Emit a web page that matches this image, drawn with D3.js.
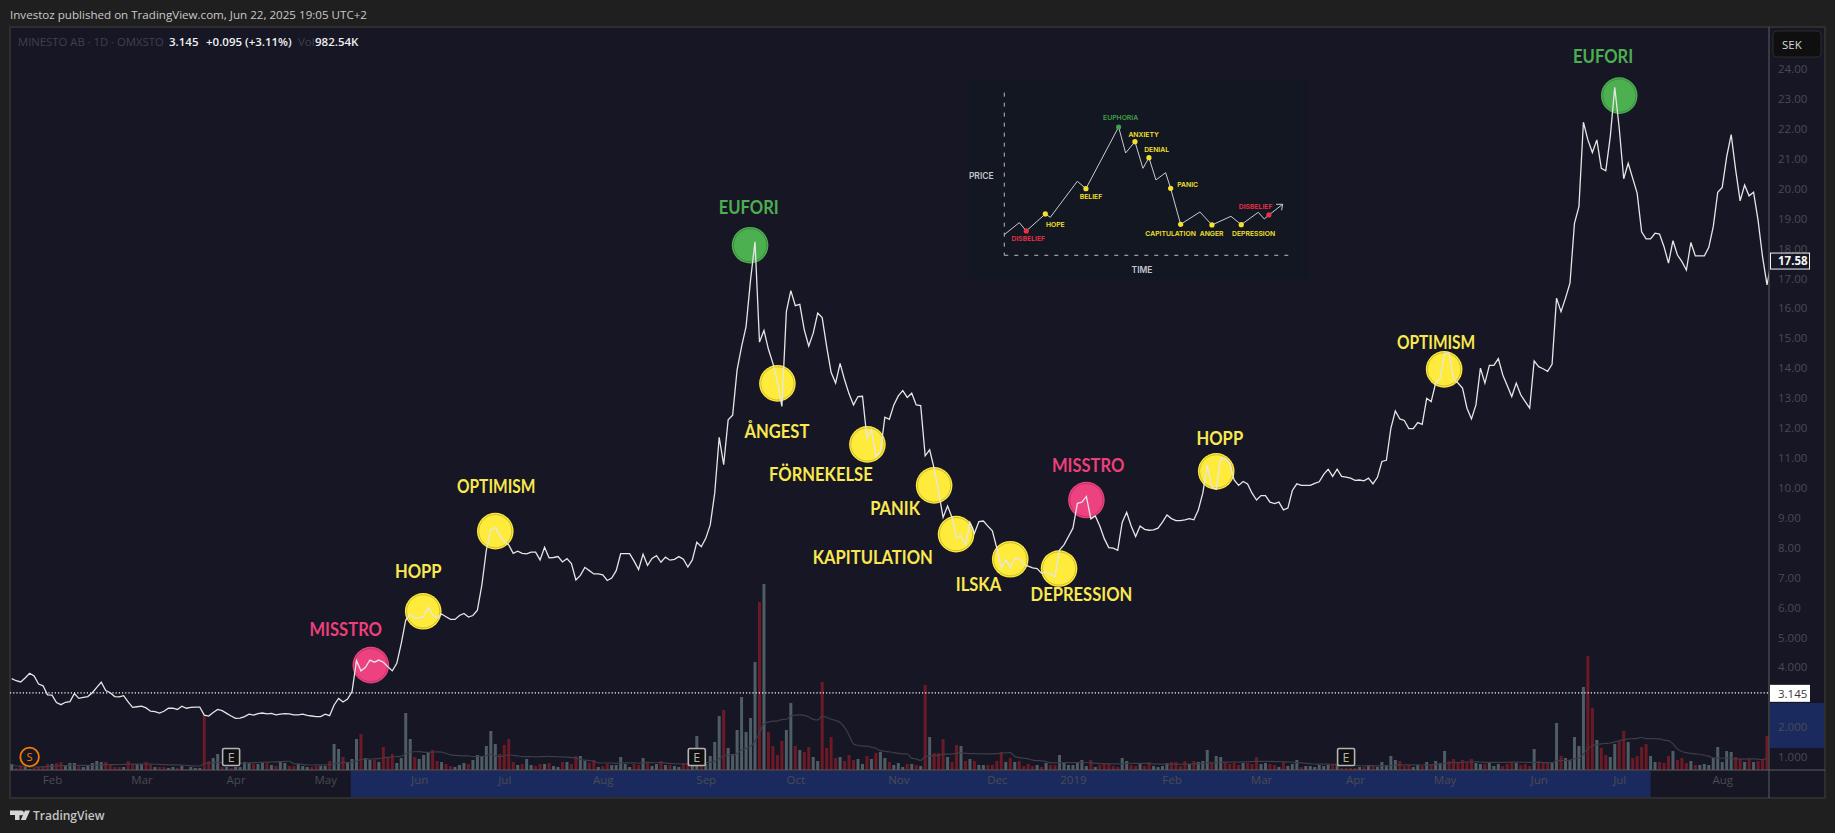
<!DOCTYPE html>
<html>
<head>
<meta charset="utf-8">
<script src="https://cdnjs.cloudflare.com/ajax/libs/d3/7.9.0/d3.min.js"></script>
<style>
html, body { margin: 0; padding: 0; background: #1f1f1f; overflow: hidden; }
svg { display: block; }
text { font-family: "Open Sans", sans-serif; }
text.stage { font-family: Lato, sans-serif; }
text.sketch { font-family: Inter, sans-serif; }
</style>
</head>
<body>
<svg id="chart" width="1835" height="833"></svg>
<script>
// daily close, SEK
var prices = [
    3.62,3.55,3.51,3.64,3.80,3.71,3.44,3.38,3.08,3.07,
    2.82,2.75,2.83,2.85,3.12,2.96,2.99,3.02,3.15,3.33,
    3.50,3.22,3.15,3.02,3.01,3.05,2.84,2.66,2.68,2.70,
    2.64,2.53,2.52,2.47,2.53,2.63,2.63,2.59,2.70,2.63,
    2.66,2.67,2.67,2.40,2.37,2.49,2.59,2.55,2.46,2.37,
    2.29,2.30,2.35,2.43,2.40,2.45,2.47,2.44,2.46,2.41,
    2.43,2.45,2.44,2.41,2.41,2.43,2.39,2.37,2.35,2.35,
    2.43,2.38,2.74,2.96,2.84,2.94,3.18,4.22,3.88,4.00,
    4.24,4.17,4.24,4.17,4.02,3.88,4.13,4.80,5.58,5.77,
    5.64,5.66,5.69,6.00,5.75,5.64,5.78,5.69,5.60,5.60,
    5.73,5.80,5.68,5.73,5.91,6.75,7.92,8.61,8.67,8.42,
    8.20,8.09,7.81,7.88,7.81,7.79,7.85,7.85,7.59,8.01,
    7.66,7.67,7.70,7.52,7.63,7.47,6.92,7.07,7.34,7.23,
    7.12,7.12,7.09,6.90,6.98,7.23,7.80,7.80,7.80,7.55,
    7.27,7.78,7.41,7.64,7.73,7.51,7.68,7.58,7.61,7.70,
    7.61,7.35,7.59,8.18,8.03,8.31,8.76,9.82,11.69,10.77,
    12.27,12.43,13.94,14.72,15.39,16.95,18.22,14.87,15.26,14.63,
    14.16,13.55,12.72,15.89,16.59,16.09,16.13,15.28,14.74,15.17,
    15.84,15.69,14.72,13.85,13.50,14.16,13.61,13.14,12.77,13.05,
    13.06,11.66,11.94,11.04,11.21,12.36,12.29,12.77,13.07,13.25,
    13.02,13.16,12.77,12.75,11.07,11.27,10.65,9.87,9.01,9.39,
    9.01,8.31,8.40,8.09,8.84,8.48,8.87,8.89,8.72,8.56,
    7.98,7.33,7.59,7.34,7.64,7.63,7.45,7.38,7.32,7.30,
    7.14,7.19,7.11,7.03,7.92,8.09,8.37,8.65,9.48,9.52,
    9.71,8.96,9.06,8.72,8.30,8.00,7.98,7.91,8.84,9.18,
    8.72,8.37,8.72,8.61,8.58,8.59,8.65,8.85,9.09,8.97,
    8.90,8.90,8.93,8.97,8.93,9.26,9.82,10.76,10.02,9.95,
    10.99,10.98,10.82,10.26,10.08,10.21,10.13,9.82,9.59,9.74,
    9.74,9.52,9.47,9.52,9.26,9.32,9.91,10.13,10.08,10.08,
    10.08,10.15,10.20,10.45,10.62,10.38,10.62,10.38,10.36,10.32,
    10.25,10.26,10.23,10.32,10.13,10.35,10.88,10.92,11.99,12.57,
    12.30,12.25,11.98,11.98,12.18,12.12,12.99,12.88,13.50,13.66,
    14.50,14.50,13.63,13.50,13.33,12.66,12.30,12.77,14.00,13.50,
    14.09,14.09,14.32,13.77,13.41,13.05,13.50,13.11,12.88,12.66,
    14.24,14.05,13.98,13.89,14.13,16.34,15.89,16.34,16.84,18.84,
    19.40,22.22,21.63,21.21,21.63,20.68,20.60,21.74,23.39,22.02,
    20.33,20.85,20.35,19.85,18.56,18.32,18.32,18.51,18.48,18.06,
    17.51,18.26,17.78,17.56,17.28,18.20,17.75,17.75,17.75,18.04,
    18.73,19.88,20.04,21.07,21.81,20.63,19.59,20.12,19.76,19.88,
    18.95,17.73,16.78,17.58
];

// daily volume, in units of 1/186 of the largest bar
var volumes = [
    6,2,4,3,1,2,3,4,6,6,
    7,8,5,7,7,5,3,4,7,9,
    8,8,5,3,3,3,9,6,6,6,
    8,5,3,3,3,2,3,2,4,1,
    3,2,2,55,9,12,16,3,3,2,
    3,3,8,7,6,6,7,7,5,4,
    8,7,4,4,6,4,3,3,4,4,
    4,9,26,21,13,7,11,31,36,12,
    10,10,8,23,12,16,7,12,57,31,
    13,11,15,17,20,9,8,6,4,3,
    5,7,6,10,15,14,24,39,26,16,
    25,31,8,5,6,11,5,4,6,6,
    7,4,3,8,8,6,14,14,9,7,
    10,3,4,6,5,5,13,6,3,6,
    5,12,7,4,6,9,5,5,4,3,
    7,7,4,34,4,6,14,28,54,60,
    22,16,40,73,38,52,108,168,186,38,
    24,15,29,40,67,24,20,18,23,13,
    9,88,22,33,12,13,9,15,10,11,
    6,14,11,17,18,12,8,5,7,3,
    6,6,5,4,85,33,17,17,31,13,
    8,25,24,9,11,9,5,5,5,5,
    9,18,8,12,8,9,4,6,4,5,
    3,7,5,5,15,8,5,5,8,10,
    4,10,3,5,6,6,4,3,12,9,
    5,4,6,4,8,4,3,4,7,8,
    8,4,9,6,9,8,9,20,7,14,
    13,8,6,7,5,7,7,6,13,6,
    7,6,5,3,8,4,6,10,3,4,
    4,3,5,4,5,5,6,2,2,2,
    2,3,3,5,5,3,8,5,14,10,
    9,4,5,3,5,4,8,5,9,7,
    19,9,11,7,10,8,11,7,6,6,
    7,4,6,4,6,8,7,5,6,4,
    21,9,7,7,7,47,14,12,10,33,
    24,83,114,62,30,22,15,13,26,29,
    39,28,12,14,23,26,14,8,8,7,
    14,19,10,12,7,9,5,5,6,5,
    12,23,8,19,18,13,11,8,11,8,
    9,11,34
];

// g = up day, r = down day
var volumeColors = (
    "grrggrrrrg" + "rrgggrgggg" + "grrrrgrrgg" + "rrgrrggrgr" +
    "gggrrggrgr" + "ggggrggrgr" + "ggrrgggrrg" + "grggrgggrg" +
    "grgrrrgggg" + "rgggrrgrrg" + "ggrggggggr" + "rrrgrggrrg" +
    "rggrgrrggr" + "rgrrgggggr" + "rgrggrgrgg" + "rrggrggggr" +
    "gggggggrgr" + "rrrggrgrrg" + "grrrrgrrrg" + "grgrggrggg" +
    "rgrgrgrrrg" + "rrgrgrggrr" + "rrgrgrrrrg" + "rgrrgggggg" +
    "grgrrrrrgg" + "rrgrrggggr" + "rrrgrgggrg" + "grrrrgrrrg" +
    "grrgrgggrg" + "gggggrgrrr" + "rgrgrggggg" + "rrrggrgrgg" +
    "grrrrrrggr" + "gggrrrgrrr" + "grrrggrggg" + "ggrrgrrggr" +
    "rgrrrrggrr" + "rgrrrgrggg" + "gggggrrgrg" + "rrr"
).split("");

var priceTicks = [24,23,22,21,20,19,18,17,16,15,14,13,12,11,10,9,8,7,6,5,4,2,1];
var lastClose = 17.58;
var lastTraded = 3.145;

var timeTickIndex = [9,29,50,70,91,110,132,155,175,198,220,237,259,279,300,320,341,359,382];
var timeTickLabels = ["Feb","Mar","Apr","May","Jun","Jul","Aug","Sep","Oct","Nov","Dec","2019","Feb","Mar","Apr","May","Jun","Jul","Aug"];

var earningsIndex = [49,153,298];
var splitIndex = [4];

// psychology stages marked on the line
var stageNames = ["MISSTRO","HOPP","OPTIMISM","EUFORI","ÅNGEST","FÖRNEKELSE","PANIK","KAPITULATION","ILSKA","DEPRESSION","MISSTRO","HOPP","OPTIMISM","EUFORI"];
var stageKinds = ["bad","mid","mid","top","mid","mid","mid","mid","mid","mid","bad","mid","mid","top"];
var stageIndex = [80.2,91.9,108,164.9,171,191.1,206,210.9,223,233.9,240,269,319.9,359];
var stagePrice = [4.07,5.87,8.55,18.11,13.49,11.45,10.08,8.45,7.61,7.30,9.59,10.55,13.96,23.11];
var stageLabelIndex = [74.6,90.8,108.2,164.6,170.9,180.7,197.3,192.3,215.9,238.9,240.4,269.8,318.1,355.4];
var stageLabelPrice = [5.27,7.23,10.07,19.38,11.91,10.47,9.32,7.70,6.79,6.46,10.75,11.68,14.88,24.45];

// inset: the market cycle sketch
var cycleTime = [0,4.5,6.6,12.3,13.8,21.9,24.5,34.3,36.4,39.2,41.6,43.4,45.5,48.4,49.9,52.9,58.7,62.3,68,71.1,76.2,78,79.4,83.5];
var cyclePrice = [6.2,9.8,7.3,12.4,11.4,22.2,20,38.5,30.7,34.1,26.1,29.3,22.6,24.8,20.1,9.3,13,9.1,11.7,9.2,12.9,10.9,12.1,15.3];
var cycleDots = [2,3,6,7,9,11,14,15,17,19,22];
var cycleDotKinds = ["bad","mid","mid","top","mid","mid","mid","mid","mid","mid","bad"];
var cycleNames = ["DISBELIEF","HOPE","BELIEF","EUPHORIA","ANXIETY","DENIAL","PANIC","CAPITULATION","ANGER","DEPRESSION","DISBELIEF"];
var cycleNameTime = [7.2,15.3,26,34.9,41.8,45.7,55,49.9,62.2,74.8,75.4];
var cycleNamePrice = [4.9,9.3,17.7,41.4,36.3,31.6,21.3,6.6,6.6,6.5,14.5];

var COLORS = {
    page: "#1f1f1f", pane: "#161625", border: "#2e2e2e", axisText: "#4b4b52",
    axisLine: "#5c5c5f", line: "#e6e6e6", up: "#4e5d66", down: "#6c1a26", ma: "#3e3e46",
    band: "#1a2a5e", mid: "#ffeb3b", bad: "#ee4180", top: "#4caf50"
};
var LABEL_COLORS = { mid: "#f9e84f", bad: "#ec407a", top: "#4caf50" };
var DOT_COLORS = { mid: "#f7e22b", bad: "#ef3047", top: "#43a047" };

var PANE_L = 10, PANE_R = 1769, PANE_T = 27, PANE_B = 798, OUTER_R = 1825, VOL_BASE = 770;

var svg = d3.select("#chart");

var x = d3.scaleLinear().domain([0, 392]).range([11.7, 1767]);
var y = d3.scaleLinear().domain([1, 24]).range([757, 69]);
var yVol = d3.scaleLinear().domain([0, 186]).range([VOL_BASE, 584]);

/* ---------- frame ---------- */
svg.append("rect").attr("width", 1835).attr("height", 833).attr("fill", COLORS.page);
svg.append("rect")
    .attr("x", PANE_L).attr("y", PANE_T)
    .attr("width", OUTER_R - PANE_L).attr("height", PANE_B - PANE_T)
    .attr("fill", COLORS.pane)
    .attr("stroke", COLORS.border).attr("stroke-width", 2);

svg.append("defs").append("clipPath").attr("id", "plot")
    .append("rect")
    .attr("x", PANE_L).attr("y", PANE_T)
    .attr("width", PANE_R - PANE_L).attr("height", PANE_B - PANE_T);

// highlighted ranges on both axes
svg.append("rect").attr("x", x(75.7)).attr("y", VOL_BASE + 1)
    .attr("width", x(366) - x(75.7)).attr("height", PANE_B - VOL_BASE - 2).attr("fill", COLORS.band);
svg.append("rect").attr("x", PANE_R + 1).attr("y", 703)
    .attr("width", OUTER_R - PANE_R - 2).attr("height", 45).attr("fill", COLORS.band);

/* ---------- volume ---------- */
var plot = svg.append("g").attr("clip-path", "url(#plot)");

plot.append("g").selectAll("rect").data(volumes).join("rect")
    .attr("x", function (d, i) { return x(i) - 1.5; })
    .attr("y", function (d) { return yVol(d); })
    .attr("width", 3)
    .attr("height", function (d) { return VOL_BASE - yVol(d); })
    .attr("fill", function (d, i) { return volumeColors[i] === "r" ? COLORS.down : COLORS.up; });

// 20 day average of the volume
var volumeAverage = volumes.map(function (d, i) {
    return d3.mean(volumes.slice(Math.max(0, i - 19), i + 1));
});
plot.append("path")
    .attr("d", d3.line()
        .x(function (d, i) { return x(i); })
        .y(function (d) { return yVol(d); })
        .curve(d3.curveMonotoneX)(volumeAverage))
    .attr("fill", "none").attr("stroke", COLORS.ma).attr("stroke-width", 1.2);

/* ---------- last price dotted line ---------- */
plot.append("line")
    .attr("x1", PANE_L).attr("x2", PANE_R)
    .attr("y1", y(lastTraded)).attr("y2", y(lastTraded))
    .attr("stroke", "#ffffff").attr("stroke-width", 1.2).attr("stroke-dasharray", "1.2 2");

/* ---------- stage circles ---------- */
var stages = stageNames.map(function (name, i) {
    return { name: name, kind: stageKinds[i], i: stageIndex[i], p: stagePrice[i], li: stageLabelIndex[i], lp: stageLabelPrice[i] };
});

plot.append("g").selectAll("circle").data(stages).join("circle")
    .attr("cx", function (d) { return x(d.i); })
    .attr("cy", function (d) { return y(d.p); })
    .attr("r", 18.3)
    .attr("fill", function (d) { return COLORS[d.kind]; });
plot.append("g").selectAll("circle").data(stages).join("circle")
    .attr("cx", function (d) { return x(d.i); })
    .attr("cy", function (d) { return y(d.p); })
    .attr("r", 16.6)
    .attr("fill", "none")
    .attr("stroke", "#000").attr("stroke-opacity", 0.28).attr("stroke-width", 0.7);

/* ---------- price line ---------- */
plot.append("path")
    .attr("d", d3.line()
        .x(function (d, i) { return x(i); })
        .y(function (d) { return y(d); })(prices))
    .attr("fill", "none").attr("stroke", COLORS.line)
    .attr("stroke-width", 1.3).attr("stroke-linejoin", "miter");

svg.append("g").selectAll("text").data(stages).join("text")
    .attr("class", "stage")
    .attr("x", function (d) { return x(d.li); })
    .attr("y", function (d) { return y(d.lp); })
    .attr("text-anchor", "middle").attr("dominant-baseline", "central")
    .attr("font-weight", 700).attr("font-size", 18)
    .attr("fill", function (d) { return LABEL_COLORS[d.kind]; })
    .text(function (d) { return d.name; })
    // the original face is narrower than Lato, squeeze it to the same width
    .attr("lengthAdjust", "spacingAndGlyphs")
    .attr("textLength", function (d) {
        return this.getComputedTextLength() * (d.name === "OPTIMISM" ? 0.86 : 0.92);
    });

/* ---------- inset ---------- */
var tCycle = d3.scaleLinear().domain([0, 100]).range([1004.3, 1337.6]);
var pCycle = d3.scaleLinear().domain([0, 100]).range([255.3, -78]);

var inset = svg.append("g");
inset.append("rect").attr("x", 966).attr("y", 78).attr("width", 342).attr("height", 202).attr("fill", "#131722");

inset.append("line")
    .attr("x1", tCycle(0)).attr("x2", tCycle(0))
    .attr("y1", pCycle(48.8)).attr("y2", pCycle(0))
    .attr("stroke", "#b8b8b8").attr("stroke-dasharray", "4 6").attr("stroke-width", 1);
inset.append("line")
    .attr("x1", tCycle(0)).attr("x2", tCycle(87))
    .attr("y1", pCycle(0)).attr("y2", pCycle(0))
    .attr("stroke", "#b8b8b8").attr("stroke-dasharray", "4 6").attr("stroke-width", 1);

inset.append("path")
    .attr("d", d3.line()
        .x(function (d, i) { return tCycle(cycleTime[i]); })
        .y(function (d) { return pCycle(d); })(cyclePrice))
    .attr("fill", "none").attr("stroke", "#c9cbd1").attr("stroke-width", 1);

// arrow head of the sketch
var tipT = cycleTime[cycleTime.length - 1], tipP = cyclePrice[cyclePrice.length - 1];
inset.append("path")
    .attr("d", "M" + (tCycle(tipT) - 6.5) + "," + pCycle(tipP) + "L" + tCycle(tipT) + "," + pCycle(tipP) + "L" + (tCycle(tipT) - 1) + "," + (pCycle(tipP) + 6))
    .attr("fill", "none").attr("stroke", "#c9cbd1").attr("stroke-width", 1);

inset.append("g").selectAll("circle").data(cycleDots).join("circle")
    .attr("cx", function (d) { return tCycle(cycleTime[d]); })
    .attr("cy", function (d) { return pCycle(cyclePrice[d]); })
    .attr("r", 2.6)
    .attr("fill", function (d, i) { return DOT_COLORS[cycleDotKinds[i]]; });

inset.append("g").selectAll("text").data(cycleNames).join("text")
    .attr("class", "sketch")
    .attr("x", function (d, i) { return tCycle(cycleNameTime[i]); })
    .attr("y", function (d, i) { return pCycle(cycleNamePrice[i]); })
    .attr("text-anchor", "middle").attr("dominant-baseline", "central")
    .attr("font-weight", 600).attr("font-size", 6.8)
    .attr("fill", function (d, i) { return DOT_COLORS[cycleDotKinds[i]]; })
    .text(function (d) { return d; });

inset.append("text").attr("class", "sketch").attr("x", 981.3).attr("y", 175.7)
    .attr("text-anchor", "middle").attr("dominant-baseline", "central")
    .attr("font-weight", 600).attr("font-size", 8.5)
    .attr("fill", "#c4c6cc").text("PRICE");
inset.append("text").attr("class", "sketch").attr("x", 1142).attr("y", 269.7)
    .attr("text-anchor", "middle").attr("dominant-baseline", "central")
    .attr("font-weight", 600).attr("font-size", 8.5)
    .attr("fill", "#c4c6cc").text("TIME");

/* ---------- axes ---------- */
var axisRight = d3.axisRight(y)
    .tickValues(priceTicks)
    .tickSize(0).tickPadding(9)
    .tickFormat(function (d) { return d >= 6 ? d3.format(".2f")(d) : d3.format(".3f")(d); });
var gy = svg.append("g").attr("transform", "translate(" + PANE_R + ",0)").call(axisRight);
gy.select(".domain").remove();
gy.selectAll("text").attr("fill", COLORS.axisText).attr("font-size", 11.5);

var axisBottom = d3.axisBottom(x)
    .tickValues(timeTickIndex)
    .tickSize(0).tickPadding(6)
    .tickFormat(function (d) { return timeTickLabels[timeTickIndex.indexOf(d)]; });
var gx = svg.append("g").attr("transform", "translate(0," + VOL_BASE + ")").call(axisBottom);
gx.select(".domain").remove();
gx.selectAll("text").attr("fill", COLORS.axisText).attr("font-size", 11.5);

svg.append("line").attr("x1", PANE_L).attr("x2", OUTER_R).attr("y1", VOL_BASE).attr("y2", VOL_BASE)
    .attr("stroke", COLORS.axisLine).attr("stroke-width", 1);
svg.append("line").attr("x1", PANE_R).attr("x2", PANE_R).attr("y1", PANE_T).attr("y2", PANE_B)
    .attr("stroke", COLORS.axisLine).attr("stroke-width", 1);

/* ---------- price tags ---------- */
svg.append("rect").attr("x", 1773).attr("y", 31).attr("width", 48).attr("height", 26).attr("rx", 4)
    .attr("fill", "#0f0f0f").attr("stroke", "#2c2c2c");
svg.append("text").attr("x", 1782).attr("y", 48.5).attr("font-size", 11.5).attr("fill", "#d8d8d8").text("SEK");

svg.append("rect").attr("x", 1770.5).attr("y", y(lastClose) - 8).attr("width", 39).attr("height", 16)
    .attr("fill", COLORS.pane).attr("stroke", "#f0f0f0");
svg.append("text").attr("x", 1778).attr("y", y(lastClose) + 4).attr("font-size", 11.5).attr("font-weight", 700)
    .attr("fill", "#f5f5f5").text(d3.format(".2f")(lastClose));

svg.append("rect").attr("x", 1770).attr("y", y(lastTraded) - 8).attr("width", 40).attr("height", 17).attr("fill", "#ffffff");
svg.append("text").attr("x", 1778).attr("y", y(lastTraded) + 5).attr("font-size", 11.5).attr("fill", "#3a3a3a")
    .text(d3.format(".3f")(lastTraded));

/* ---------- event markers ---------- */
var MARKER_Y = 757;
svg.append("g").selectAll("g").data(earningsIndex).join("g")
    .attr("transform", function (d) { return "translate(" + x(d) + "," + MARKER_Y + ")"; })
    .each(function () {
        var g = d3.select(this);
        g.append("rect").attr("x", -8.5).attr("y", -8.5).attr("width", 17).attr("height", 17).attr("rx", 1.5)
            .attr("fill", "#101010").attr("stroke", "#b5b5b5").attr("stroke-width", 1.6);
        g.append("text").attr("text-anchor", "middle").attr("y", 4.5).attr("font-size", 12.5).attr("fill", "#b5b5b5").text("E");
    });
svg.append("g").selectAll("g").data(splitIndex).join("g")
    .attr("transform", function (d) { return "translate(" + x(d) + "," + MARKER_Y + ")"; })
    .each(function () {
        var g = d3.select(this);
        g.append("circle").attr("r", 9.3).attr("fill", COLORS.pane).attr("stroke", "#f57c00").attr("stroke-width", 1.8);
        g.append("text").attr("text-anchor", "middle").attr("y", 4).attr("font-size", 11).attr("fill", "#f57c00").text("S");
    });

/* ---------- header, legend and logo ---------- */
svg.append("text").attr("x", 10).attr("y", 19).attr("font-size", 11.6).attr("fill", "#c9c9c9")
    .text("Investoz published on TradingView.com, Jun 22, 2025 19:05 UTC+2");

var legendY = 46;
svg.append("text").attr("x", 18).attr("y", legendY).attr("font-size", 11.3).attr("fill", "#41414a").text("MINESTO AB · 1D · OMXSTO");
svg.append("text").attr("x", 169).attr("y", legendY).attr("font-size", 11.5).attr("font-weight", 600).attr("fill", "#f0f0f0").text("3.145");
svg.append("text").attr("x", 206).attr("y", legendY).attr("font-size", 11.5).attr("font-weight", 600).attr("fill", "#f0f0f0").text("+0.095 (+3.11%)");
svg.append("text").attr("x", 298).attr("y", legendY).attr("font-size", 11.5).attr("fill", "#41414a").text("Vol");
svg.append("text").attr("x", 315).attr("y", legendY).attr("font-size", 11.5).attr("font-weight", 600).attr("fill", "#f0f0f0").text("982.54K");

svg.append("path")
    .attr("d", "M10,810.5H19.5V820H15V815H10Z M21,810.5A2.4,2.4 0 1 1 21,815.2A2.4,2.4 0 1 1 21,810.5Z M25,810.5H30L25.8,820H20.8Z")
    .attr("fill", "#d6d6d6");
svg.append("text").attr("x", 33).attr("y", 820).attr("font-size", 12).attr("font-weight", 600).attr("fill", "#c4c4c4").text("TradingView");
</script>
</body>
</html>
